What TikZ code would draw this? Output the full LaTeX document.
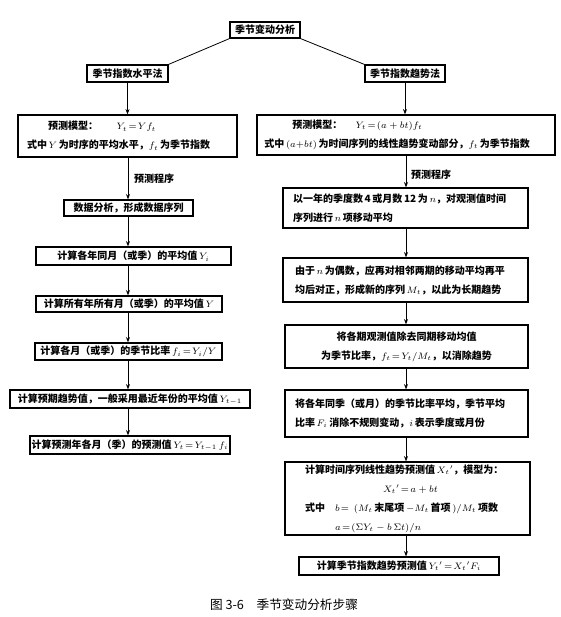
\documentclass[tikz,border=0pt]{standalone}
\usepackage{fontspec}
\newfontfamily\cjk{Noto Sans CJK SC}
\usetikzlibrary{arrows.meta}
\begin{document}
\begin{tikzpicture}[x=0.75pt,y=-0.75pt,
  box/.style={draw,line width=0.9pt,inner sep=0pt,font=\cjk\bfseries\fontsize{7.5}{14.25}\selectfont},
  mbox/.style={box,align=left,inner xsep=#1},
  arr/.style={line width=0.6pt,-{Stealth[length=4pt,width=3pt]}},
  conn/.style={line width=0.6pt},
  lbl/.style={font=\cjk\bfseries\fontsize{7.5}{10}\selectfont,inner sep=0pt}]
\useasboundingbox (0,0) rectangle (560,617);
\coordinate (cl) at (128,0);
\coordinate (cr) at (406,0);
% top
\node[box,minimum width=52.5pt,minimum height=12pt] (T) at (265,30) {季节变动分析};
\node[box,minimum width=60.75pt,minimum height=12.75pt] (L0) at (127.5,73.5) {季节指数水平法};
\node[box,minimum width=60pt,minimum height=12.75pt] (R0) at (405,73.5) {季节指数趋势法};
\draw[conn] (T.south west) -- (L0.north east);
\draw[conn] (T.south east) -- (R0.north west);
% left column
\node[mbox=6.75pt,text width=150.75pt,minimum height=31.5pt] (L1) at (127.5,136)
  {\mbox{\hspace*{15.75pt}预测模型：\hspace{14pt}$Y_t\!=\!Yf_t$}\\\mbox{式中\,$Y$\,为时序的平均水平，$f_t$\,为季节指数}};
\node[box,minimum width=96.75pt,minimum height=12pt] (L2) at (128.5,208) {数据分析，形成数据序列};
\node[box,minimum width=146.25pt,minimum height=13.5pt] (L3) at (133.5,256) {计算各年同月（或季）的平均值\,$Y_i$};
\node[box,minimum width=139.5pt,minimum height=12pt] (L4) at (129,304) {计算所有年所有月（或季）的平均值\,$Y$};
\node[box,minimum width=140.25pt,minimum height=12.75pt] (L5) at (128.5,351.5) {计算各月（或季）的季节比率\,$f_i\!=\!Y_i/Y$};
\node[box,minimum width=180pt,minimum height=13.5pt] (L6) at (130,399) {计算预期趋势值，一般采用最近年份的平均值\,$Y_{t-1}$};
\node[box,minimum width=150pt,minimum height=13.5pt] (L7) at (130,445) {计算预测年各月（季）的预测值\,$Y_t\!=\!Y_{t-1}\,f_i$};
\draw[arr] (L0.south) -- (L0.south |- L1.north);
\draw[arr] (L1.south -| cl) -- (L2.north -| cl);
\draw[arr] (L2.south -| cl) -- (L3.north -| cl);
\draw[arr] (L3.south -| cl) -- (L4.north -| cl);
\draw[arr] (L4.south -| cl) -- (L5.north -| cl);
\draw[arr] (L5.south -| cl) -- (L6.north -| cl);
\draw[arr] (L6.south -| cl) -- (L7.north -| cl);
\node[lbl] (LP) at (154,179) {预测程序};
% right column
\node[mbox=5.5pt,text width=212.5pt,minimum height=30pt] (R1) at (406,135)
  {\mbox{\hspace*{21pt}预测模型：\hspace{10pt}$Y_t\!=\!(a+bt)f_t$}\\\mbox{式中\,$(a{+}bt)$\,为时间序列的线性趋势变动部分，$f_t$\,为季节指数}};
\node[mbox=7.5pt,text width=168.75pt,minimum height=30pt] (R2) at (405.5,208)
  {\mbox{以一年的季度数\,4\,或月数\,12\,为\,$n$，对观测值时间}\\\mbox{序列进行\,$n$\,项移动平均}};
\node[mbox=9pt,text width=165.75pt,minimum height=33pt] (R3) at (405.5,280)
  {\mbox{由于\,$n$\,为偶数，应再对相邻两期的移动平均再平}\\\mbox{均后对正，形成新的序列\,$M_t$，以此为长期趋势}};
\node[box,align=center,minimum width=182.25pt,minimum height=32.25pt] (R4) at (406.5,346.5)
  {将各期观测值除去同期移动均值\\为季节比率，$f_t\!=\!Y_t/M_t$，以消除趋势};
\node[mbox=7.5pt,text width=167.25pt,minimum height=35.25pt] (R5) at (406.5,413.5)
  {\mbox{将各年同季（或月）的季节比率平均，季节平均}\\\mbox{比率\,$F_i$\,消除不规则变动，$i$\,表示季度或月份}};
\node[mbox=15pt,text width=153.75pt,minimum height=54.75pt] (R6) at (407.5,498.5)
  {\mbox{计算时间序列线性趋势预测值\,$X_t{}'$，模型为：}\\
   \mbox{\hspace*{58.5pt}$X_t{}'\!=\!a+bt$}\\
   \mbox{式中\quad $b\!=\,(M_t$\,末尾项\,$-M_t$\,首项\,$)/M_t$\,项数}\\
   \mbox{\hspace*{22.5pt}$a\!=\!(\Sigma Y_t-b\,\Sigma t)/n$}};
\node[box,minimum width=150pt,minimum height=13.5pt] (R7) at (399,566) {计算季节指数趋势预测值\,$Y_t{}'\!=\!X_t{}'F_i$};
\draw[arr] (R0.south) -- (R0.south |- R1.north);
\draw[arr] (R1.south -| cr) -- (R2.north -| cr);
\draw[arr] (R2.south -| cr) -- (R3.north -| cr);
\draw[arr] (R3.south -| cr) -- (R4.north -| cr);
\draw[arr] (R4.south -| cr) -- (R5.north -| cr);
\draw[arr] (R5.south -| cr) -- (R6.north -| cr);
\draw[arr] (R6.south -| cr) -- (R7.north -| cr);
\node[lbl] (RP) at (431,175) {预测程序};
% caption
\node[font=\cjk\fontsize{9.5}{11}\selectfont,inner sep=0pt] (CAP) at (284,605) {图 3-6\quad 季节变动分析步骤};
\end{tikzpicture}
\end{document}
